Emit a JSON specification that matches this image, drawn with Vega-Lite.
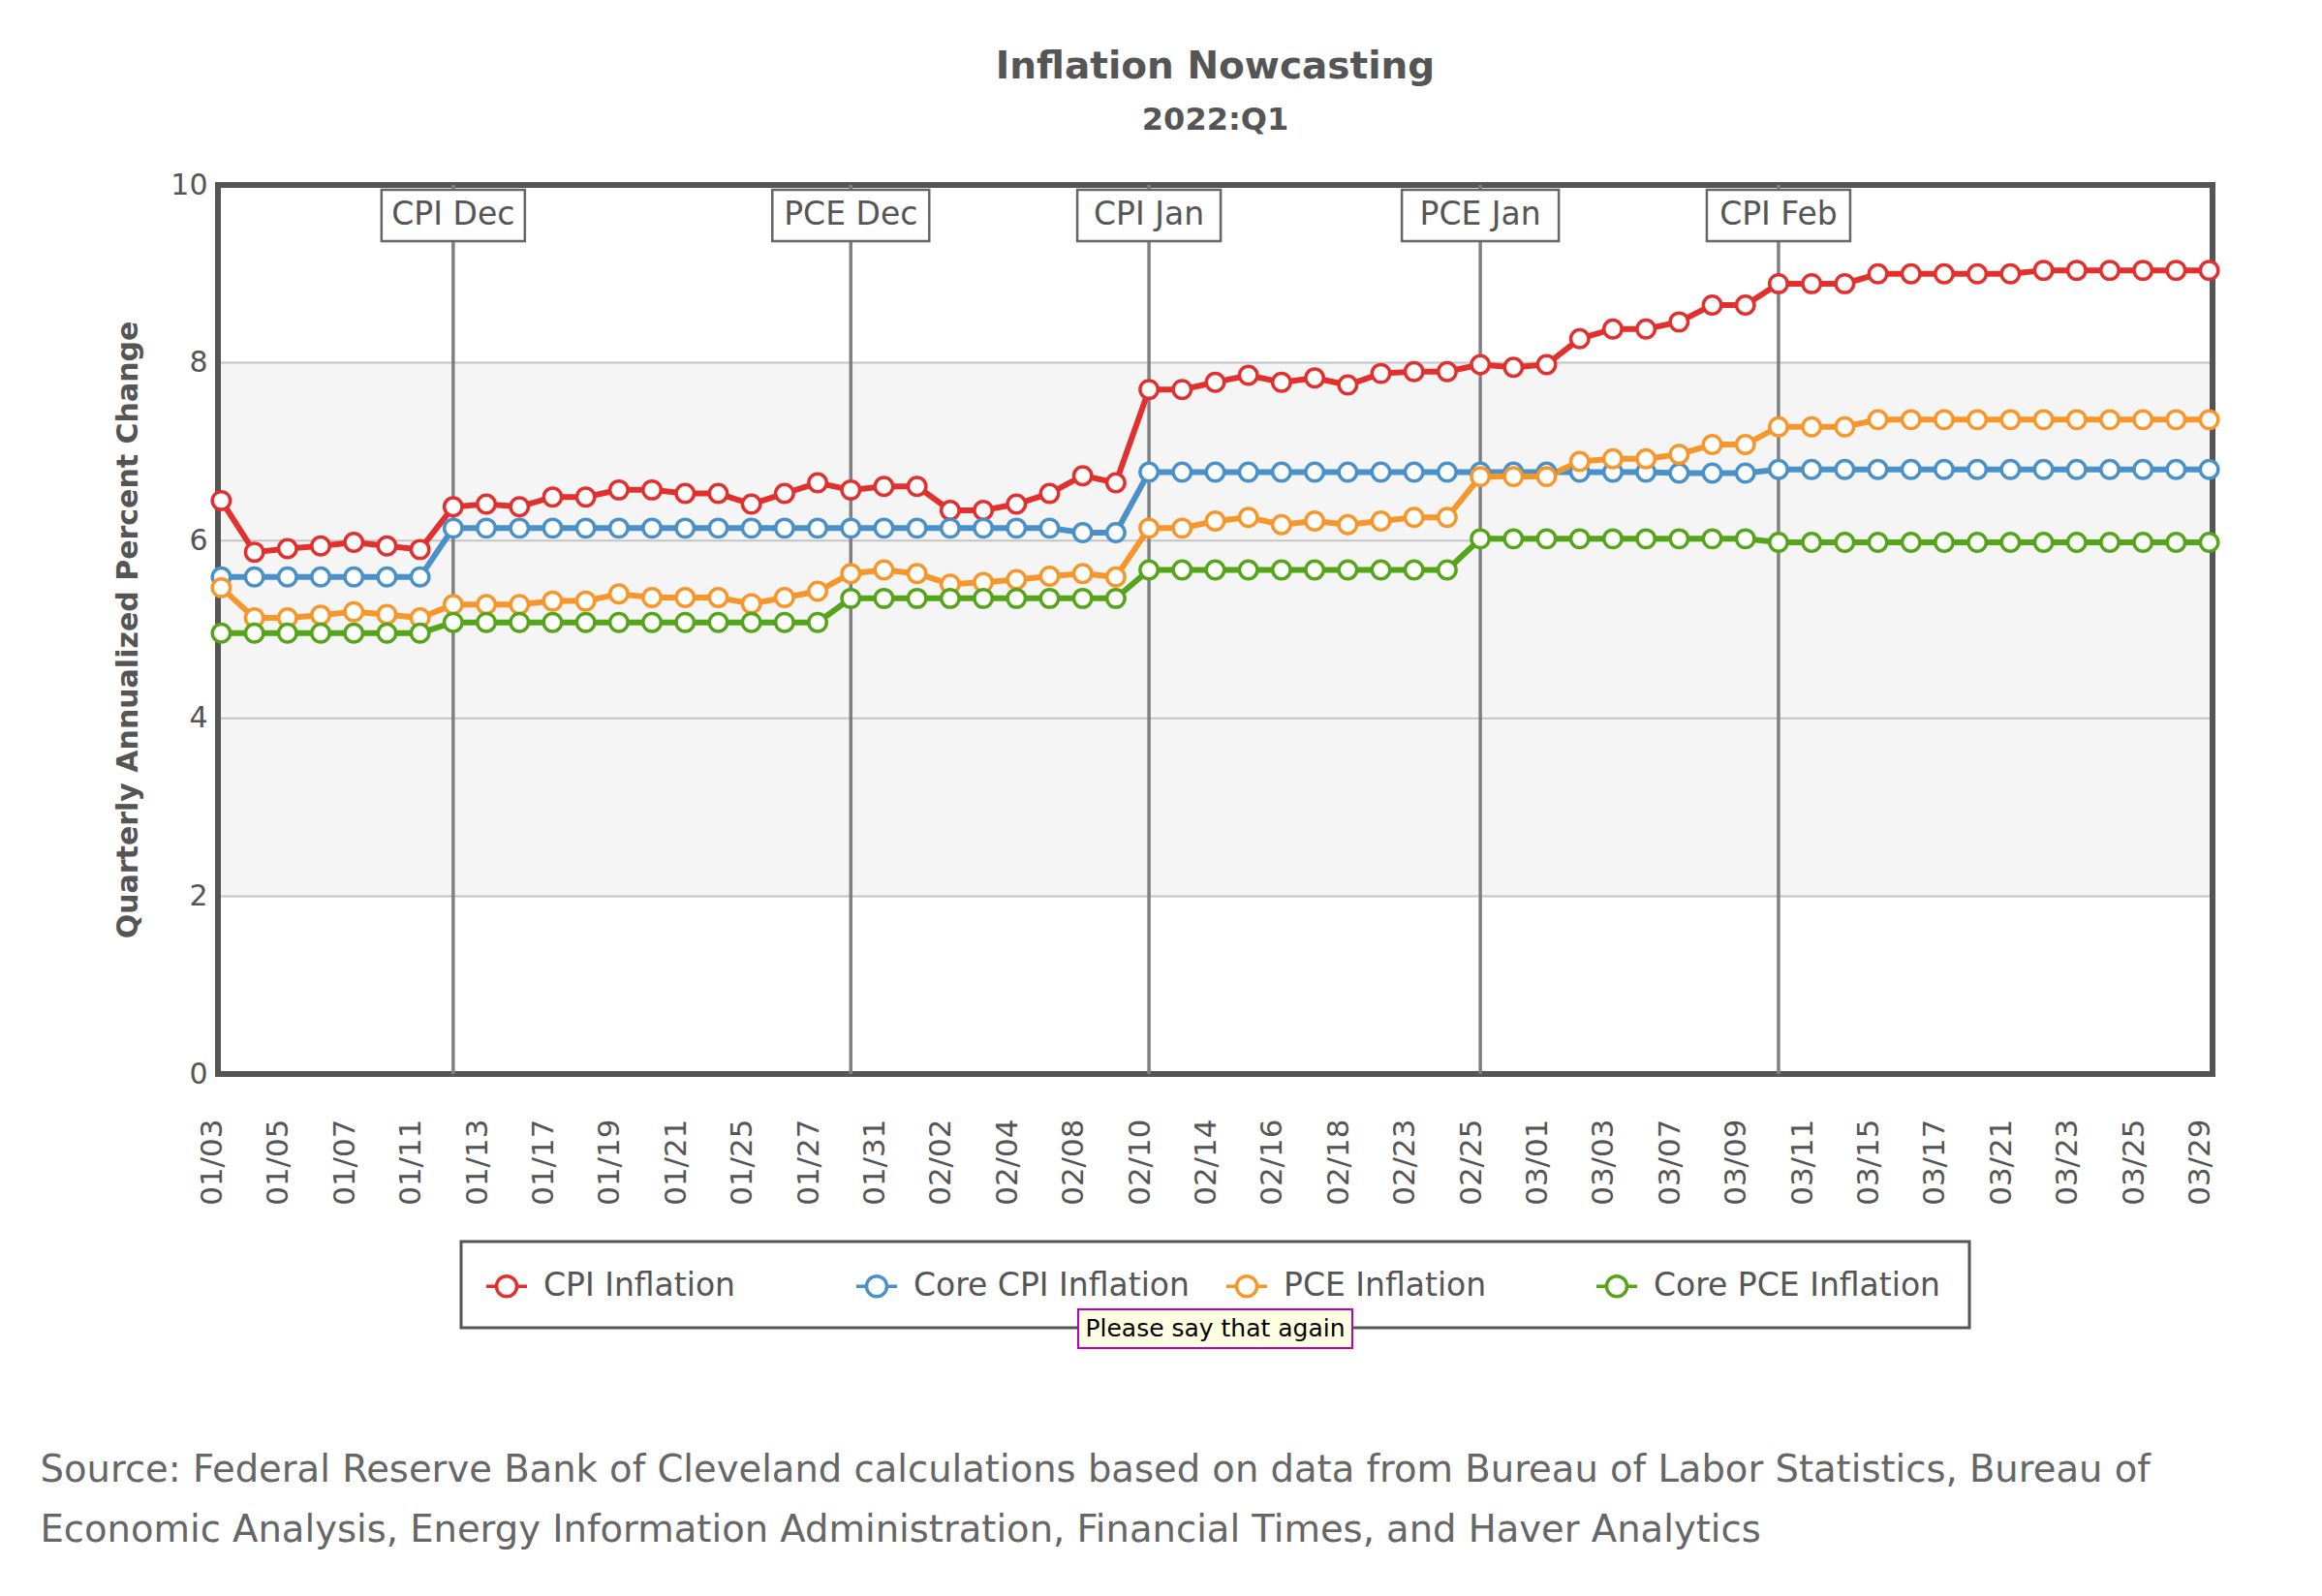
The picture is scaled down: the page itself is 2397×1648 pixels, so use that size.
{
  "$schema": "https://vega.github.io/schema/vega-lite/v6.json",
  "width": 2059,
  "height": 918,
  "autosize": {"type": "none"},
  "padding": {"left": 225, "top": 191, "right": 113, "bottom": 539},
  "background": "white",
  "config": {"view": {"stroke": null}, "font": "DejaVu Sans"},
  "title": {
    "text": "Inflation Nowcasting",
    "subtitle": "2022:Q1",
    "frame": "group",
    "anchor": "middle",
    "font": "DejaVu Sans",
    "fontSize": 39,
    "fontWeight": "bold",
    "color": "#555555",
    "subtitleFont": "DejaVu Sans",
    "subtitleFontSize": 32,
    "subtitleFontWeight": "bold",
    "subtitleColor": "#555555",
    "subtitlePadding": 20,
    "offset": 36
  },
  "datasets": {
    "nowcast": [
      {"date": "01/03", "CPI Inflation": 6.45, "Core CPI Inflation": 5.59, "PCE Inflation": 5.47, "Core PCE Inflation": 4.96},
      {"date": "01/04", "CPI Inflation": 5.87, "Core CPI Inflation": 5.59, "PCE Inflation": 5.13, "Core PCE Inflation": 4.96},
      {"date": "01/05", "CPI Inflation": 5.91, "Core CPI Inflation": 5.59, "PCE Inflation": 5.13, "Core PCE Inflation": 4.96},
      {"date": "01/06", "CPI Inflation": 5.94, "Core CPI Inflation": 5.59, "PCE Inflation": 5.16, "Core PCE Inflation": 4.96},
      {"date": "01/07", "CPI Inflation": 5.98, "Core CPI Inflation": 5.59, "PCE Inflation": 5.2, "Core PCE Inflation": 4.96},
      {"date": "01/10", "CPI Inflation": 5.94, "Core CPI Inflation": 5.59, "PCE Inflation": 5.17, "Core PCE Inflation": 4.96},
      {"date": "01/11", "CPI Inflation": 5.9, "Core CPI Inflation": 5.59, "PCE Inflation": 5.13, "Core PCE Inflation": 4.96},
      {"date": "01/12", "CPI Inflation": 6.38, "Core CPI Inflation": 6.14, "PCE Inflation": 5.28, "Core PCE Inflation": 5.08},
      {"date": "01/13", "CPI Inflation": 6.41, "Core CPI Inflation": 6.14, "PCE Inflation": 5.28, "Core PCE Inflation": 5.08},
      {"date": "01/14", "CPI Inflation": 6.38, "Core CPI Inflation": 6.14, "PCE Inflation": 5.28, "Core PCE Inflation": 5.08},
      {"date": "01/17", "CPI Inflation": 6.49, "Core CPI Inflation": 6.14, "PCE Inflation": 5.32, "Core PCE Inflation": 5.08},
      {"date": "01/18", "CPI Inflation": 6.49, "Core CPI Inflation": 6.14, "PCE Inflation": 5.32, "Core PCE Inflation": 5.08},
      {"date": "01/19", "CPI Inflation": 6.57, "Core CPI Inflation": 6.14, "PCE Inflation": 5.4, "Core PCE Inflation": 5.08},
      {"date": "01/20", "CPI Inflation": 6.57, "Core CPI Inflation": 6.14, "PCE Inflation": 5.36, "Core PCE Inflation": 5.08},
      {"date": "01/21", "CPI Inflation": 6.53, "Core CPI Inflation": 6.14, "PCE Inflation": 5.36, "Core PCE Inflation": 5.08},
      {"date": "01/24", "CPI Inflation": 6.53, "Core CPI Inflation": 6.14, "PCE Inflation": 5.36, "Core PCE Inflation": 5.08},
      {"date": "01/25", "CPI Inflation": 6.41, "Core CPI Inflation": 6.14, "PCE Inflation": 5.29, "Core PCE Inflation": 5.08},
      {"date": "01/26", "CPI Inflation": 6.53, "Core CPI Inflation": 6.14, "PCE Inflation": 5.36, "Core PCE Inflation": 5.08},
      {"date": "01/27", "CPI Inflation": 6.65, "Core CPI Inflation": 6.14, "PCE Inflation": 5.43, "Core PCE Inflation": 5.08},
      {"date": "01/28", "CPI Inflation": 6.57, "Core CPI Inflation": 6.14, "PCE Inflation": 5.63, "Core PCE Inflation": 5.35},
      {"date": "01/31", "CPI Inflation": 6.61, "Core CPI Inflation": 6.14, "PCE Inflation": 5.67, "Core PCE Inflation": 5.35},
      {"date": "02/01", "CPI Inflation": 6.61, "Core CPI Inflation": 6.14, "PCE Inflation": 5.63, "Core PCE Inflation": 5.35},
      {"date": "02/02", "CPI Inflation": 6.34, "Core CPI Inflation": 6.14, "PCE Inflation": 5.51, "Core PCE Inflation": 5.35},
      {"date": "02/03", "CPI Inflation": 6.34, "Core CPI Inflation": 6.14, "PCE Inflation": 5.53, "Core PCE Inflation": 5.35},
      {"date": "02/04", "CPI Inflation": 6.41, "Core CPI Inflation": 6.14, "PCE Inflation": 5.56, "Core PCE Inflation": 5.35},
      {"date": "02/07", "CPI Inflation": 6.53, "Core CPI Inflation": 6.14, "PCE Inflation": 5.6, "Core PCE Inflation": 5.35},
      {"date": "02/08", "CPI Inflation": 6.73, "Core CPI Inflation": 6.09, "PCE Inflation": 5.63, "Core PCE Inflation": 5.35},
      {"date": "02/09", "CPI Inflation": 6.65, "Core CPI Inflation": 6.09, "PCE Inflation": 5.59, "Core PCE Inflation": 5.35},
      {"date": "02/10", "CPI Inflation": 7.7, "Core CPI Inflation": 6.77, "PCE Inflation": 6.14, "Core PCE Inflation": 5.67},
      {"date": "02/11", "CPI Inflation": 7.7, "Core CPI Inflation": 6.77, "PCE Inflation": 6.14, "Core PCE Inflation": 5.67},
      {"date": "02/14", "CPI Inflation": 7.78, "Core CPI Inflation": 6.77, "PCE Inflation": 6.22, "Core PCE Inflation": 5.67},
      {"date": "02/15", "CPI Inflation": 7.86, "Core CPI Inflation": 6.77, "PCE Inflation": 6.26, "Core PCE Inflation": 5.67},
      {"date": "02/16", "CPI Inflation": 7.78, "Core CPI Inflation": 6.77, "PCE Inflation": 6.18, "Core PCE Inflation": 5.67},
      {"date": "02/17", "CPI Inflation": 7.83, "Core CPI Inflation": 6.77, "PCE Inflation": 6.22, "Core PCE Inflation": 5.67},
      {"date": "02/18", "CPI Inflation": 7.75, "Core CPI Inflation": 6.77, "PCE Inflation": 6.18, "Core PCE Inflation": 5.67},
      {"date": "02/22", "CPI Inflation": 7.88, "Core CPI Inflation": 6.77, "PCE Inflation": 6.22, "Core PCE Inflation": 5.67},
      {"date": "02/23", "CPI Inflation": 7.9, "Core CPI Inflation": 6.77, "PCE Inflation": 6.26, "Core PCE Inflation": 5.67},
      {"date": "02/24", "CPI Inflation": 7.9, "Core CPI Inflation": 6.77, "PCE Inflation": 6.26, "Core PCE Inflation": 5.67},
      {"date": "02/25", "CPI Inflation": 7.98, "Core CPI Inflation": 6.77, "PCE Inflation": 6.72, "Core PCE Inflation": 6.02},
      {"date": "02/28", "CPI Inflation": 7.95, "Core CPI Inflation": 6.77, "PCE Inflation": 6.72, "Core PCE Inflation": 6.02},
      {"date": "03/01", "CPI Inflation": 7.98, "Core CPI Inflation": 6.77, "PCE Inflation": 6.72, "Core PCE Inflation": 6.02},
      {"date": "03/02", "CPI Inflation": 8.27, "Core CPI Inflation": 6.77, "PCE Inflation": 6.89, "Core PCE Inflation": 6.02},
      {"date": "03/03", "CPI Inflation": 8.38, "Core CPI Inflation": 6.77, "PCE Inflation": 6.92, "Core PCE Inflation": 6.02},
      {"date": "03/04", "CPI Inflation": 8.38, "Core CPI Inflation": 6.77, "PCE Inflation": 6.92, "Core PCE Inflation": 6.02},
      {"date": "03/07", "CPI Inflation": 8.46, "Core CPI Inflation": 6.76, "PCE Inflation": 6.97, "Core PCE Inflation": 6.02},
      {"date": "03/08", "CPI Inflation": 8.65, "Core CPI Inflation": 6.76, "PCE Inflation": 7.08, "Core PCE Inflation": 6.02},
      {"date": "03/09", "CPI Inflation": 8.65, "Core CPI Inflation": 6.76, "PCE Inflation": 7.08, "Core PCE Inflation": 6.02},
      {"date": "03/10", "CPI Inflation": 8.89, "Core CPI Inflation": 6.8, "PCE Inflation": 7.28, "Core PCE Inflation": 5.98},
      {"date": "03/11", "CPI Inflation": 8.89, "Core CPI Inflation": 6.8, "PCE Inflation": 7.28, "Core PCE Inflation": 5.98},
      {"date": "03/14", "CPI Inflation": 8.89, "Core CPI Inflation": 6.8, "PCE Inflation": 7.28, "Core PCE Inflation": 5.98},
      {"date": "03/15", "CPI Inflation": 9.0, "Core CPI Inflation": 6.8, "PCE Inflation": 7.36, "Core PCE Inflation": 5.98},
      {"date": "03/16", "CPI Inflation": 9.0, "Core CPI Inflation": 6.8, "PCE Inflation": 7.36, "Core PCE Inflation": 5.98},
      {"date": "03/17", "CPI Inflation": 9.0, "Core CPI Inflation": 6.8, "PCE Inflation": 7.36, "Core PCE Inflation": 5.98},
      {"date": "03/18", "CPI Inflation": 9.0, "Core CPI Inflation": 6.8, "PCE Inflation": 7.36, "Core PCE Inflation": 5.98},
      {"date": "03/21", "CPI Inflation": 9.0, "Core CPI Inflation": 6.8, "PCE Inflation": 7.36, "Core PCE Inflation": 5.98},
      {"date": "03/22", "CPI Inflation": 9.04, "Core CPI Inflation": 6.8, "PCE Inflation": 7.36, "Core PCE Inflation": 5.98},
      {"date": "03/23", "CPI Inflation": 9.04, "Core CPI Inflation": 6.8, "PCE Inflation": 7.36, "Core PCE Inflation": 5.98},
      {"date": "03/24", "CPI Inflation": 9.04, "Core CPI Inflation": 6.8, "PCE Inflation": 7.36, "Core PCE Inflation": 5.98},
      {"date": "03/25", "CPI Inflation": 9.04, "Core CPI Inflation": 6.8, "PCE Inflation": 7.36, "Core PCE Inflation": 5.98},
      {"date": "03/28", "CPI Inflation": 9.04, "Core CPI Inflation": 6.8, "PCE Inflation": 7.36, "Core PCE Inflation": 5.98},
      {"date": "03/29", "CPI Inflation": 9.04, "Core CPI Inflation": 6.8, "PCE Inflation": 7.36, "Core PCE Inflation": 5.98}
    ],
    "events": [
      {"date": "01/12", "label": "CPI Dec", "kind": "CPI"},
      {"date": "01/28", "label": "PCE Dec", "kind": "PCE"},
      {"date": "02/10", "label": "CPI Jan", "kind": "CPI"},
      {"date": "02/25", "label": "PCE Jan", "kind": "PCE"},
      {"date": "03/10", "label": "CPI Feb", "kind": "CPI"}
    ]
  },
  "layer": [
    {
      "data": {"values": [{"lo": 2, "hi": 8}]},
      "mark": {"type": "rect", "fill": "#f5f5f5"},
      "encoding": {
        "y": {"field": "lo", "type": "quantitative", "scale": {"domain": [0, 10], "nice": false}},
        "y2": {"field": "hi"}
      }
    },
    {
      "data": {"values": [{"g": 2}, {"g": 4}, {"g": 6}, {"g": 8}]},
      "mark": {"type": "rule", "stroke": "#c4c4c4", "strokeWidth": 2},
      "encoding": {
        "y": {"field": "g", "type": "quantitative"}
      }
    },
    {
      "data": {"values": [{"frame": "plot"}]},
      "mark": {"type": "rect", "filled": false, "stroke": "#555555", "strokeWidth": 6},
      "encoding": {}
    },
    {
      "data": {"name": "events"},
      "mark": {"type": "rule", "stroke": "#808080", "strokeWidth": 3.5},
      "encoding": {
        "x": {"field": "date", "type": "ordinal", "scale": {"type": "point"}}
      }
    },
    {
      "data": {"name": "events"},
      "transform": [{"filter": "datum.kind == 'CPI'"}],
      "mark": {"type": "rect", "fill": "white", "stroke": "#666666", "strokeWidth": 2.5, "width": 148},
      "encoding": {
        "x": {"field": "date", "type": "ordinal", "scale": {"type": "point"}},
        "y": {"datum": 9.946, "type": "quantitative"},
        "y2": {"datum": 9.368}
      }
    },
    {
      "data": {"name": "events"},
      "transform": [{"filter": "datum.kind == 'PCE'"}],
      "mark": {"type": "rect", "fill": "white", "stroke": "#666666", "strokeWidth": 2.5, "width": 162},
      "encoding": {
        "x": {"field": "date", "type": "ordinal", "scale": {"type": "point"}},
        "y": {"datum": 9.946, "type": "quantitative"},
        "y2": {"datum": 9.368}
      }
    },
    {
      "data": {"name": "events"},
      "mark": {"type": "text", "font": "DejaVu Sans", "fontSize": 33, "fill": "#555555", "align": "center", "baseline": "middle"},
      "encoding": {
        "x": {"field": "date", "type": "ordinal", "scale": {"type": "point"}},
        "y": {"datum": 9.657, "type": "quantitative"},
        "text": {"field": "label"}
      }
    },
    {
      "data": {"name": "nowcast"},
      "transform": [{"fold": ["CPI Inflation", "Core CPI Inflation", "PCE Inflation", "Core PCE Inflation"], "as": ["key", "value"]}],
      "mark": {"type": "line", "strokeWidth": 6},
      "encoding": {
        "x": {
          "field": "date", "type": "ordinal",
          "scale": {"type": "point", "padding": 0.1},
          "axis": {
            "values": ["01/03", "01/05", "01/07", "01/11", "01/13", "01/17", "01/19", "01/21", "01/25", "01/27", "01/31", "02/02", "02/04", "02/08", "02/10", "02/14", "02/16", "02/18", "02/23", "02/25", "03/01", "03/03", "03/07", "03/09", "03/11", "03/15", "03/17", "03/21", "03/23", "03/25", "03/29"],
            "labelAngle": -90,
            "labelAlign": "right",
            "labelBaseline": "alphabetic",
            "labelFont": "DejaVu Sans",
            "labelFontSize": 31,
            "labelColor": "#555555",
            "labelPadding": 46,
            "labelOverlap": false,
            "labelFlush": false,
            "ticks": false,
            "domain": false,
            "grid": false,
            "title": ["Source: Federal Reserve Bank of Cleveland calculations based on data from Bureau of Labor Statistics, Bureau of", "Economic Analysis, Energy Information Administration, Financial Times, and Haver Analytics"],
            "titleFont": "DejaVu Sans",
            "titleFontSize": 38.5,
            "titleFontWeight": "normal",
            "titleColor": "#666666",
            "titleAlign": "left",
            "titleAnchor": "start",
            "titleBaseline": "alphabetic",
            "titleX": -184,
            "titleY": 420,
            "titleLineHeight": 62,
            "titleLimit": 2400
          }
        },
        "y": {
          "field": "value", "type": "quantitative",
          "scale": {"domain": [0, 10], "nice": false},
          "axis": {
            "values": [0, 2, 4, 6, 8, 10],
            "format": "d",
            "title": "Quarterly Annualized Percent Change",
            "titleFont": "DejaVu Sans",
            "titleFontSize": 30,
            "titleFontWeight": "bold",
            "titleColor": "#555555",
            "titlePadding": 28,
            "labelFont": "DejaVu Sans",
            "labelFontSize": 30,
            "labelColor": "#555555",
            "labelPadding": 11,
            "ticks": false,
            "domain": false,
            "grid": false
          }
        },
        "stroke": {
          "field": "key", "type": "nominal",
          "scale": {
            "domain": ["CPI Inflation", "Core CPI Inflation", "PCE Inflation", "Core PCE Inflation"],
            "range": ["#e2302f", "#4a90c9", "#f7962b", "#55a51a"]
          },
          "legend": {
            "title": null,
            "orient": "none",
            "legendX": 275,
            "legendY": 1114,
            "direction": "horizontal",
            "columns": 4,
            "gridAlign": "all",
            "columnPadding": 19,
            "padding": 0,
            "labelFont": "DejaVu Sans",
            "labelFontSize": 33,
            "labelColor": "#555555",
            "labelOffset": 15,
            "labelLimit": 500,
            "symbolType": "M-1,0L-0.5,0M0.5,0L1,0M0.5,0A0.5,0.5,0,1,1,-0.5,0A0.5,0.5,0,1,1,0.5,0Z",
            "symbolSize": 1764,
            "symbolStrokeWidth": 3.5,
            "symbolFillColor": "white",
            "symbolOpacity": 1
          }
        }
      }
    },
    {
      "data": {"name": "nowcast"},
      "transform": [{"fold": ["CPI Inflation", "Core CPI Inflation", "PCE Inflation", "Core PCE Inflation"], "as": ["key", "value"]}],
      "mark": {"type": "point", "shape": "circle", "size": 340, "fill": "white", "filled": false, "strokeWidth": 3.5, "opacity": 1},
      "encoding": {
        "x": {"field": "date", "type": "ordinal", "scale": {"type": "point"}},
        "y": {"field": "value", "type": "quantitative"},
        "stroke": {"field": "key", "type": "nominal"}
      }
    },
    {
      "data": {"values": [{"box": "legend"}]},
      "mark": {"type": "rect", "fill": "white", "fillOpacity": 0, "stroke": "#555555", "strokeWidth": 3, "width": 1557},
      "encoding": {
        "x": {"datum": "02/14", "type": "ordinal", "scale": {"type": "point"}},
        "y": {"datum": -1.885, "type": "quantitative"},
        "y2": {"datum": -2.854}
      }
    },
    {
      "data": {"values": [{"t": "Please say that again"}]},
      "mark": {"type": "rect", "fill": "#ffffe1", "stroke": "#bb00bb", "strokeWidth": 2, "width": 283},
      "encoding": {
        "x": {"datum": "02/14", "type": "ordinal", "scale": {"type": "point"}},
        "y": {"datum": -2.647, "type": "quantitative"},
        "y2": {"datum": -3.083}
      }
    },
    {
      "data": {"values": [{"t": "Please say that again"}]},
      "mark": {"type": "text", "font": "DejaVu Sans", "fontSize": 25, "fill": "black", "align": "center", "baseline": "middle"},
      "encoding": {
        "x": {"datum": "02/14", "type": "ordinal", "scale": {"type": "point"}},
        "y": {"datum": -2.865, "type": "quantitative"},
        "text": {"field": "t"}
      }
    }
  ]
}
